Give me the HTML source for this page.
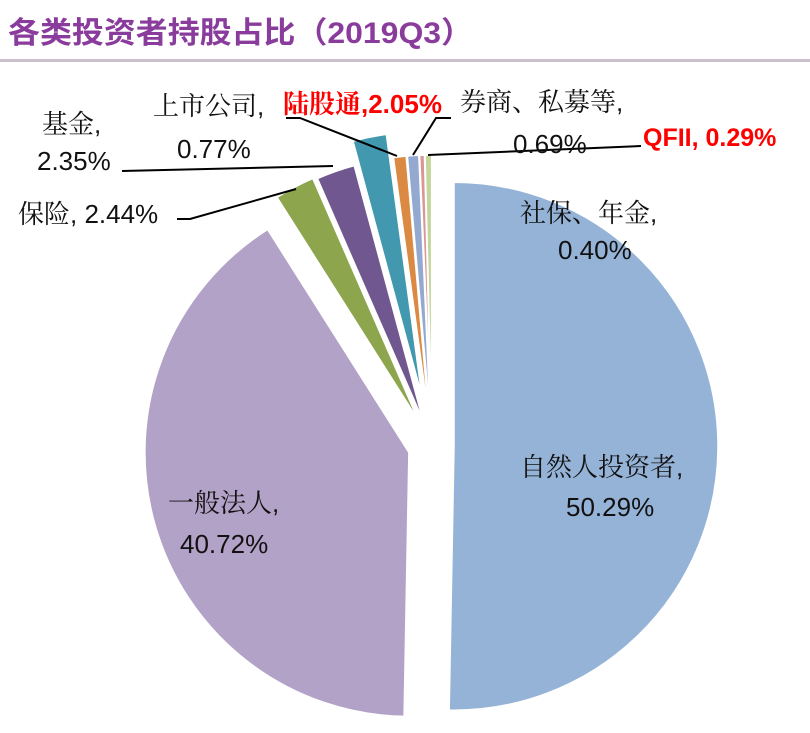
<!DOCTYPE html>
<html><head><meta charset="utf-8"><style>
body{margin:0;background:#fff;width:810px;height:728px;overflow:hidden}
svg text{font-family:"Liberation Sans","Noto Serif CJK SC",serif}
</style></head><body>
<svg width="810" height="728" viewBox="0 0 810 728">
<text x="8" y="43" font-size="30" fill="#8a3c9c" font-weight="bold" textLength="465" lengthAdjust="spacingAndGlyphs" style="font-family:'Liberation Sans','Noto Sans CJK SC',sans-serif">各类投资者持股占比（2019Q3）</text>
<rect x="0" y="59" width="810" height="3" fill="#c9bfcd"/>
<g id="slices"></g>
<g id="labels">
<polyline points="122,171 333,166" fill="none" stroke="#000" stroke-width="2"/>
<polyline points="177,219 190,219 296,189" fill="none" stroke="#000" stroke-width="2"/>
<polyline points="286,118 300,118 397,156" fill="none" stroke="#000" stroke-width="2"/>
<polyline points="451,118 436,118 413,155" fill="none" stroke="#000" stroke-width="2"/>
<polyline points="641,146 428,155" fill="none" stroke="#000" stroke-width="2"/>
<g font-size="26" fill="#111">
<text x="42" y="133">基金,</text>
<text x="37" y="170">2.35%</text>
<text x="18" y="223">保险, 2.44%</text>
<text x="153" y="115">上市公司,</text>
<text x="177" y="158">0.77%</text>
<text x="460" y="111">券商、私募等,</text>
<text x="513" y="153">0.69%</text>
<text x="520" y="222">社保、年金,</text>
<text x="558" y="259">0.40%</text>
<text x="520" y="476">自然人投资者,</text>
<text x="566" y="516">50.29%</text>
<text x="168" y="512">一般法人,</text>
<text x="180" y="553">40.72%</text>
</g>
<text x="283" y="113" font-size="26" font-weight="bold" fill="#ff0000">陆股通,2.05%</text>
<text x="643" y="146" font-size="25" font-weight="bold" fill="#ff0000">QFII, 0.29%</text>
</g>
</svg>
<script>
const categories=["自然人投资者","一般法人","保险","基金","陆股通","上市公司","券商、私募等","QFII","社保、年金"];
const values=[50.29,40.72,2.44,2.35,2.05,0.77,0.69,0.29,0.40];
const sliceNames=["slice-ziranren","slice-yiban","slice-baoxian","slice-jijin","slice-lugutong","slice-shangshi","slice-quanshang","slice-qfii","slice-shebao"];
const colors=["#95b3d7","#b3a2c7","#8da64e","#71578f","#4198af","#db8a43","#93a9d0","#d99694","#c3d69b"];
const explode=[22,24,29,27,51,27,27,27,27];
const cx=432,cy=446,R=264;
const total=values.reduce((a,b)=>a+b,0);
const g=document.getElementById('slices');
function pt(x,y,a,r){return [x+r*Math.sin(a),y-r*Math.cos(a)];}
let cum=0;
values.forEach((v,i)=>{
  const a0=cum/total*2*Math.PI;cum+=v;const a1=cum/total*2*Math.PI;
  const am=(a0+a1)/2;
  const [ax,ay]=pt(cx,cy,am,explode[i]);
  const [x0,y0]=pt(ax,ay,a0,R),[x1,y1]=pt(ax,ay,a1,R);
  const large=(a1-a0)>Math.PI?1:0;
  const p=document.createElementNS('http://www.w3.org/2000/svg','path');
  p.setAttribute('d',`M${ax},${ay}L${x0},${y0}A${R},${R} 0 ${large} 1 ${x1},${y1}Z`);
  p.setAttribute('fill',colors[i]);
  p.setAttribute('stroke','#fff');
  p.setAttribute('stroke-width','1.5');
  
  
  g.appendChild(p);
});
</script>
</body></html>
